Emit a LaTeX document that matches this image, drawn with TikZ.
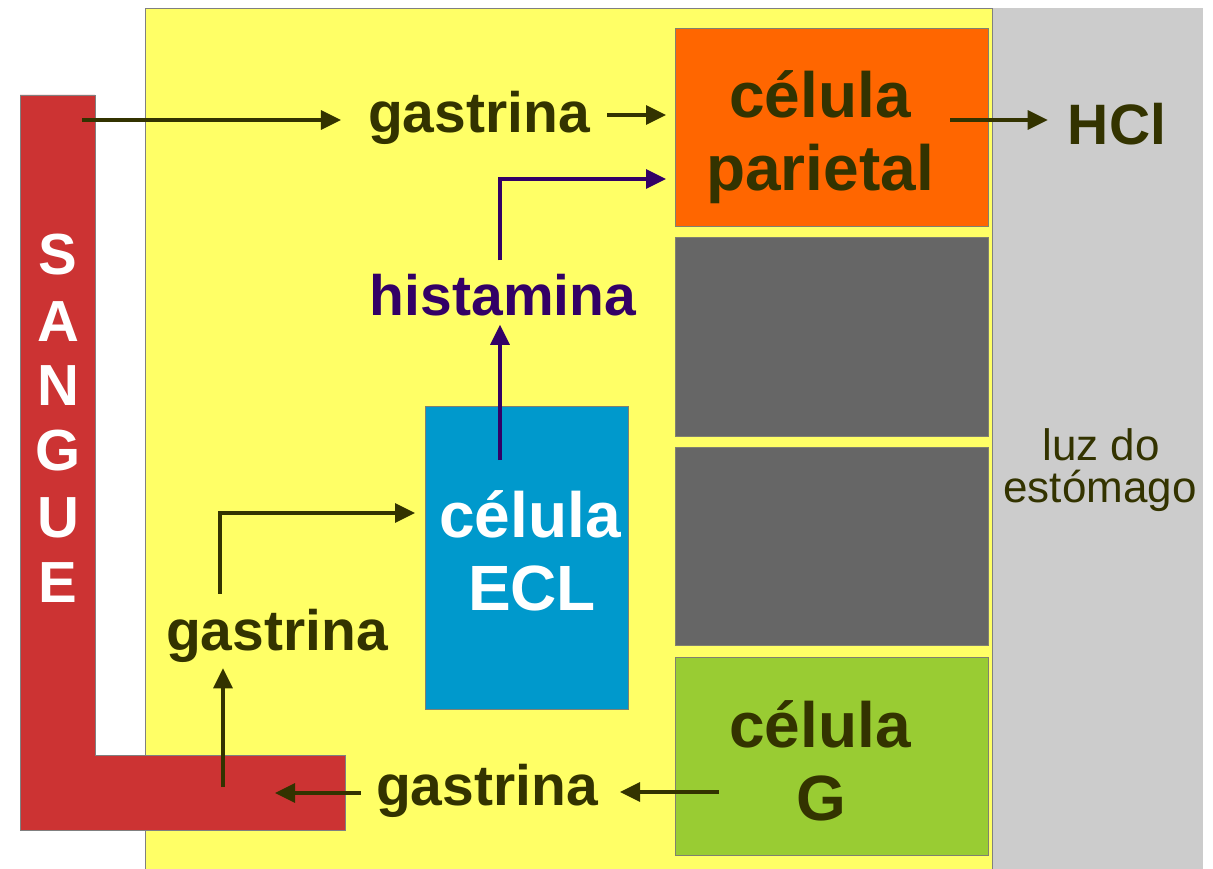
\documentclass[tikz,border=0pt]{standalone}
\usepackage{fontspec}
\setmainfont{Liberation Sans}
\usetikzlibrary{arrows.meta}
\definecolor{yel}{HTML}{FFFF66}
\definecolor{lum}{HTML}{CCCCCC}
\definecolor{blood}{HTML}{CC3333}
\definecolor{orng}{HTML}{FF6600}
\definecolor{dgray}{HTML}{666666}
\definecolor{grn}{HTML}{99CC33}
\definecolor{ecl}{HTML}{0099CC}
\definecolor{txt}{HTML}{333300}
\definecolor{pur}{HTML}{330066}
\definecolor{edge}{HTML}{808070}
\begin{document}
\begin{tikzpicture}[x=1pt,y=-1pt,
  cellbox/.style={draw=edge, line width=0.8pt, inner sep=0pt, outer sep=0pt, anchor=north west},
  big/.style={font=\bfseries\fontsize{64}{72}\selectfont, text=txt, anchor=base, inner sep=0pt},
  gas/.style={font=\bfseries\fontsize{57}{64}\selectfont, text=txt, anchor=base, inner sep=0pt},
  letter/.style={font=\bfseries\fontsize{58}{64}\selectfont, text=white, anchor=base, inner sep=0pt},
  arr/.style={-{Triangle[length=20pt,width=19pt]}, line width=3.2pt, draw=txt},
  parr/.style={arr, draw=pur}]
\useasboundingbox (0,0) rectangle (1213,869);
% backgrounds
\fill[lum] (992,8) rectangle (1203,869);
\draw[fill=yel, draw=gray, line width=0.8pt] (145,869) -- (145,8) -- (992,8) -- (992,869);
% blood L
\draw[fill=blood, draw=gray, line width=0.8pt] (20,95) -- (95,95) -- (95,755) -- (345,755) -- (345,830) -- (20,830) -- cycle;
\foreach \l/\yy [count=\i] in {S/275,A/341,N/405,G/470,U/537,E/602}
  \node[letter] (sg\i) at (58,\yy) {\l};
% cells
\node[cellbox, fill=orng, minimum width=313pt, minimum height=198pt] (par) at (675,28) {};
\node[cellbox, fill=dgray, minimum width=313pt, minimum height=199pt] (dg1) at (675,237) {};
\node[cellbox, fill=dgray, minimum width=313pt, minimum height=198pt] (dg2) at (675,447) {};
\node[cellbox, fill=grn, minimum width=313pt, minimum height=198pt] (gcell) at (675,657) {};
\node[cellbox, fill=ecl, minimum width=203pt, minimum height=303pt] (ecl) at (425,406) {};
% labels
\node[big] (par1) at (820,118) {célula};
\node[big] (par2) at (820,191) {parietal};
\node[big] (g1) at (820,747) {célula};
\node[big] (g2) at (821,820) {G};
\node[big, text=white] (e1) at (530,537) {célula};
\node[big, text=white] (e2) at (532,610) {ECL};
\node[gas] (gas1) at (479,133) {gastrina};
\node[gas] (gas2) at (277,650) {gastrina};
\node[gas] (gas3) at (487,805) {gastrina};
\node[gas, text=pur] (hist) at (503,315) {histamina};
\node[gas] (hcl) at (1117,145) {HCl};
\node[font=\fontsize{44}{42}\selectfont, text=txt, anchor=base, inner sep=0pt] (luz1) at (1101,460) {luz do};
\node[font=\fontsize{44}{42}\selectfont, text=txt, anchor=base, inner sep=0pt] (luz2) at (1100,502) {estómago};
% coordinates
\coordinate (sgs) at (82,120);
\coordinate (r1) at (0,115);
\coordinate (r3) at (0,179);
\coordinate (hs) at (950,120);
\coordinate (es) at (500,460);
\coordinate (hl) at (500,0);
\coordinate (rb) at (223,787);
\coordinate (g2s) at (220,0);
\coordinate (r4) at (0,513);
\coordinate (gs) at (719,792);
\coordinate (rt) at (275,793);
% connectors
\draw[arr, shorten >=27pt] (sgs) -- (gas1.west |- sgs);
\draw[arr, shorten <=17pt, shorten >=9pt] (gas1.east |- r1) -- (par.west |- r1);
\draw[arr, shorten >=20pt] (hs) -- (hcl.west |- hs);
\draw[parr, shorten <=13pt, shorten >=9pt] (hl |- hist.north) |- (par.west |- r3);
\draw[parr, shorten >=9pt] (es) -- (es |- hist.south);
\draw[arr, shorten >=6pt] (rb) -- (rb |- gas2.south);
\draw[arr, shorten <=15pt, shorten >=10pt] (g2s |- gas2.north) |- (ecl.west |- r4);
\draw[arr, shorten >=22pt] (gs) -- (gas3.east |- gs);
\draw[arr, shorten <=15pt] (gas3.west |- rt) -- (rt);
\end{tikzpicture}
\end{document}
